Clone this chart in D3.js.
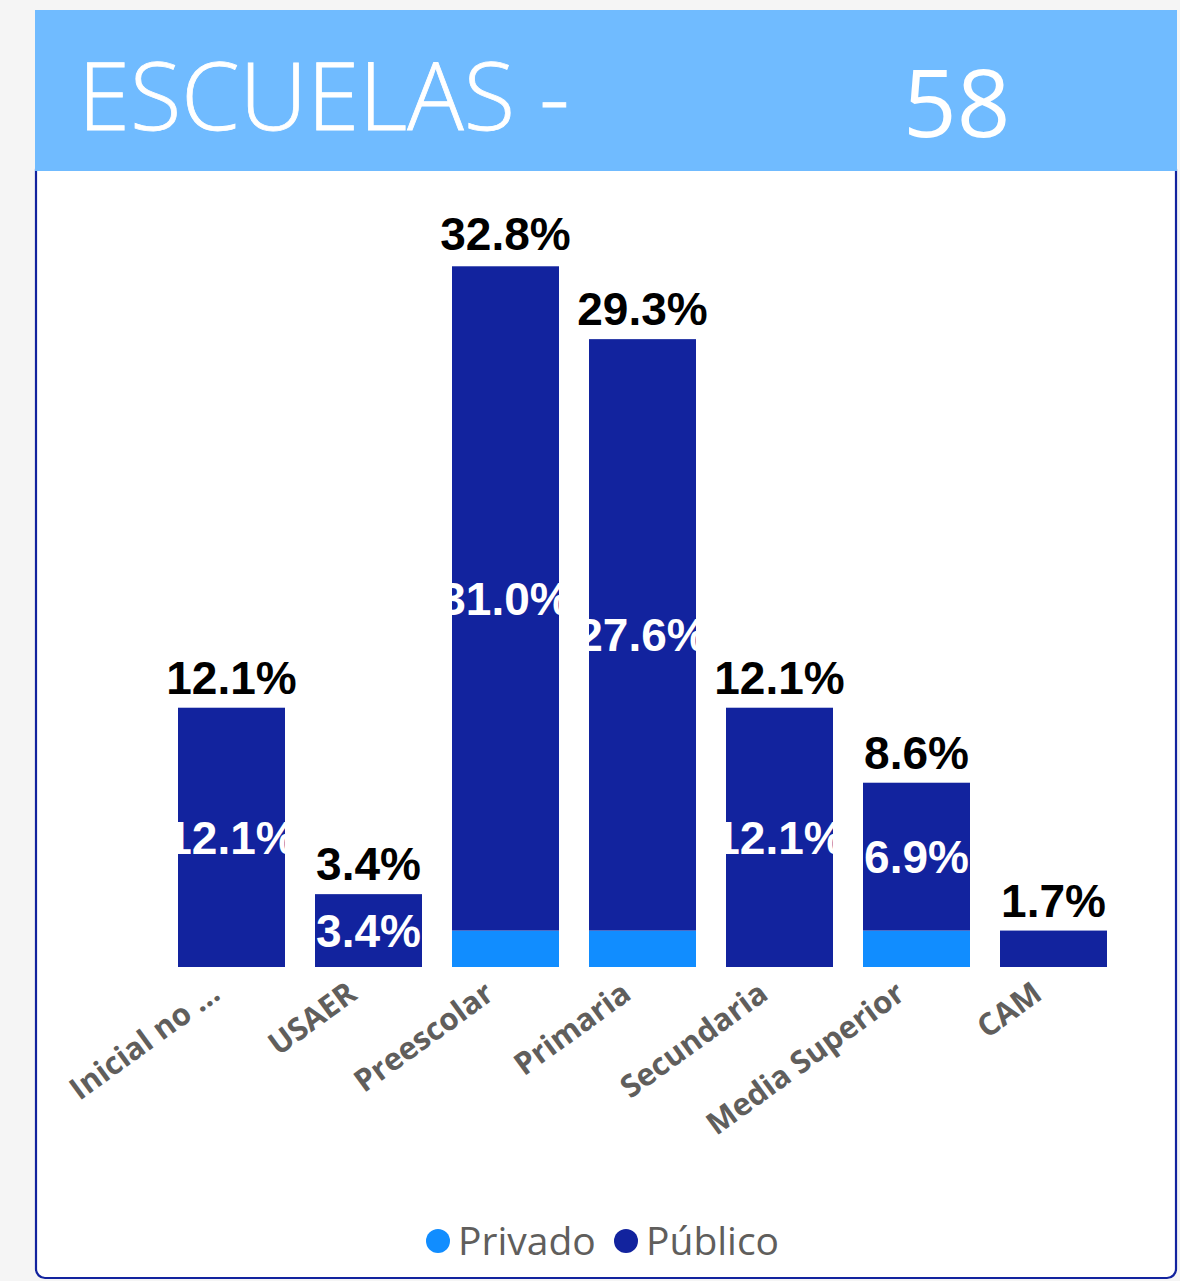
<!DOCTYPE html>
<html><head><meta charset="utf-8">
<script src="https://cdn.jsdelivr.net/npm/d3@7"></script>
<style>html,body{margin:0;padding:0;background:#f5f5f5;}svg{display:block;}</style>
</head><body>
<script>
const categories = ["Inicial no …","USAER","Preescolar","Primaria","Secundaria","Media Superior","CAM"];
const privado = [0, 0, 1.7, 1.7, 0, 1.7, 0];
const publico = [12.1, 3.4, 31.0, 27.6, 12.1, 6.9, 1.7];
const totals = [12.1, 3.4, 32.8, 29.3, 12.1, 8.6, 1.7];
const seriesNames = ["Privado","Público"];
const title = "ESCUELAS -";
const totalSchools = "58";

const W = 1180, H = 1281;
const colPriv = "#118DFF", colPub = "#12239E";
const svg = d3.select("body").append("svg").attr("width", W).attr("height", H);

svg.append("rect").attr("width", W).attr("height", H).attr("fill", "#f5f5f5");
// chart box
svg.append("rect").attr("x", 36).attr("y", 160).attr("width", 1140).attr("height", 1118)
  .attr("rx", 9).attr("fill", "#fff").attr("stroke", colPub).attr("stroke-width", 2.2);
// header
svg.append("rect").attr("x", 35).attr("y", 10).attr("width", 1142).attr("height", 161).attr("fill", "#70BBFF");
svg.append("text").attr("x", 78).attr("y", 130).attr("fill", "#fff")
  .attr("font-family", "Open Sans, Noto Sans, sans-serif").attr("font-size", 94).attr("font-weight", 300)
  .attr("stroke", "#fff").attr("stroke-width", 0.8)
  .text(title);
svg.append("text").attr("x", 903).attr("y", 137).attr("fill", "#fff")
  .attr("font-family", "Open Sans, Noto Sans, sans-serif").attr("font-size", 94).attr("font-weight", 400)
  .text(totalSchools);

const x = d3.scaleBand().domain(categories).range([163, 1122]).paddingInner(0.219).paddingOuter(0.1095);
const y = d3.scaleLinear().domain([0, 35]).range([967, 217]);

const data = categories.map((c, i) => ({c, i, priv: privado[i], pub: publico[i], tot: totals[i]}));
const g = svg.append("g");
const defs = svg.append("defs");

// privado segments
g.selectAll("rect.priv").data(data.filter(d => d.priv > 0)).join("rect")
  .attr("x", d => x(d.c)).attr("width", x.bandwidth())
  .attr("y", d => y(d.priv)).attr("height", d => y(0) - y(d.priv)).attr("fill", colPriv);
// publico segments
g.selectAll("rect.pub").data(data).join("rect")
  .attr("x", d => x(d.c)).attr("width", x.bandwidth())
  .attr("y", d => y(d.priv + d.pub)).attr("height", d => y(d.priv) - y(d.priv + d.pub)).attr("fill", colPub);

// clip paths
data.forEach(d => {
  defs.append("clipPath").attr("id", "clip" + d.i).append("rect")
    .attr("x", x(d.c)).attr("width", x.bandwidth())
    .attr("y", y(d.priv + d.pub)).attr("height", y(d.priv) - y(d.priv + d.pub));
});

const fmt = v => v.toFixed(1) + "%";
// inner labels (publico)
g.selectAll("text.in").data(data.filter(d => d.pub >= 3)).join("text")
  .attr("clip-path", d => "url(#clip" + d.i + ")")
  .attr("x", d => x(d.c) + x.bandwidth() / 2)
  .attr("y", d => (y(d.priv) + y(d.priv + d.pub)) / 2)
  .attr("dy", "0.36em")
  .attr("text-anchor", "middle").attr("fill", "#fff")
  .attr("font-family", "Liberation Sans, Arial, sans-serif").attr("font-weight", "bold").attr("font-size", 46)
  .text(d => fmt(d.pub));
// total labels
g.selectAll("text.tot").data(data).join("text")
  .attr("x", d => x(d.c) + x.bandwidth() / 2)
  .attr("y", d => y(d.tot) - 14)
  .attr("text-anchor", "middle").attr("fill", "#000")
  .attr("font-family", "Liberation Sans, Arial, sans-serif").attr("font-weight", "bold").attr("font-size", 46)
  .text(d => fmt(d.tot));

// x axis labels
const axis = d3.axisBottom(x).tickSize(0).tickPadding(0);
const ax = svg.append("g").attr("transform", `translate(0,${y(0)})`).call(axis);
ax.select(".domain").remove();
ax.selectAll("text")
  .attr("fill", "#605E5C").attr("font-family", "Open Sans, Noto Sans, sans-serif")
  .attr("font-weight", "bold").attr("font-size", 31)
  .attr("text-anchor", "end")
  .attr("transform", "translate(-16,22) rotate(-36)")
  .attr("dy", "0.35em").attr("y", 0);

// legend
const leg = svg.append("g");
const legX = [438, 626];
seriesNames.forEach((s, i) => {
  leg.append("circle").attr("cx", legX[i]).attr("cy", 1241).attr("r", 12).attr("fill", i === 0 ? colPriv : colPub);
  leg.append("text").attr("x", legX[i] + 20).attr("y", 1241).attr("dy", "0.35em")
    .attr("fill", "#605E5C").attr("font-family", "Open Sans, Noto Sans, sans-serif").attr("font-size", 39)
    .text(s);
});
</script>
</body></html>
